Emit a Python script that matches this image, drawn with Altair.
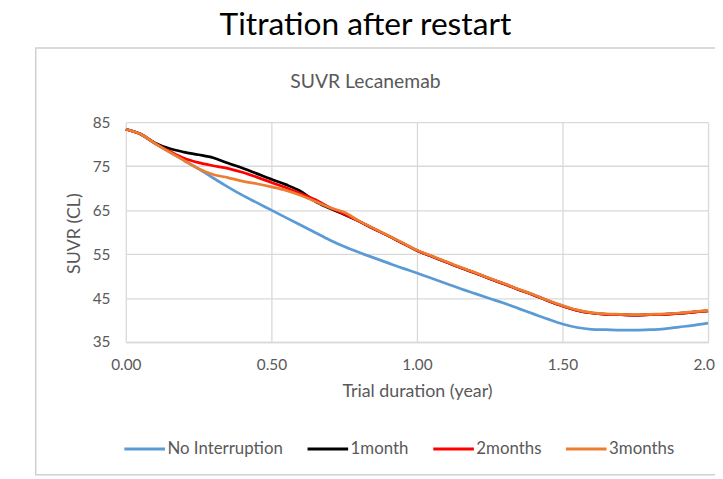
import altair as alt
import pandas as pd

# ---------------- data ----------------
years = [round(i * 0.05, 2) for i in range(41)]

series_names = ["No Interruption", "1month", "2months", "3months"]
series_colors = ["#5B9BD5", "#000000", "#FF0000", "#ED7D31"]

no_interruption = [83.4, 82.3, 80.2, 78.2, 76.3, 74.4, 72.3, 70.3, 68.4, 66.7,
                   65.0, 63.3, 61.6, 59.9, 58.2, 56.7, 55.4, 54.2, 53.0, 51.8,
                   50.7, 49.5, 48.3, 47.1, 46.0, 44.9, 43.8, 42.6, 41.4, 40.2,
                   39.1, 38.3, 37.9, 37.8, 37.7, 37.7, 37.8, 38.0, 38.4, 38.8,
                   39.3]
one_month = [83.4, 82.3, 80.3, 79.0, 78.2, 77.6, 76.9, 75.7, 74.6, 73.3,
             72.0, 70.8, 69.3, 67.0, 65.4, 64.0, 62.5, 60.8, 59.2, 57.5,
             55.8, 54.5, 53.2, 51.9, 50.7, 49.4, 48.2, 46.9, 45.7, 44.4,
             43.2, 42.2, 41.6, 41.3, 41.2, 41.1, 41.2, 41.3, 41.5, 41.8,
             42.1]
two_months = [83.4, 82.3, 80.2, 78.4, 76.8, 75.8, 75.1, 74.5, 73.6, 72.5,
              71.3, 70.1, 68.8, 67.4, 65.6, 64.1, 62.5, 60.8, 59.2, 57.5,
              55.8, 54.5, 53.2, 51.9, 50.7, 49.4, 48.2, 46.9, 45.7, 44.4,
              43.2, 42.2, 41.6, 41.3, 41.2, 41.1, 41.2, 41.3, 41.5, 41.8,
              42.1]
three_months = [83.4, 82.3, 80.2, 78.2, 76.3, 74.4, 73.1, 72.4, 71.6, 71.0,
                70.3, 69.5, 68.4, 67.0, 65.6, 64.5, 62.6, 60.9, 59.3, 57.6,
                55.9, 54.6, 53.3, 52.0, 50.8, 49.5, 48.3, 47.0, 45.8, 44.5,
                43.3, 42.3, 41.7, 41.4, 41.3, 41.2, 41.3, 41.4, 41.6, 41.9,
                42.2]

x_ticks = [0, 0.5, 1.0, 1.5, 2.0]
y_ticks = [35, 45, 55, 65, 75, 85]

main_title = "Titration after restart"
chart_title = "SUVR Lecanemab"
x_title = "Trial duration (year)"
y_title = "SUVR (CL)"

# ---------------- table ----------------
rows = []
for name, vals in zip(series_names,
                      [no_interruption, one_month, two_months, three_months]):
    for x, v in zip(years, vals):
        rows.append({"year": x, "suvr": v, "series": name})
df = pd.DataFrame(rows)

FONT = "Lato"
GRAY = "#595959"

lines = alt.Chart(df).mark_line(strokeWidth=2.75, interpolate="monotone").encode(
    x=alt.X("year:Q", scale=alt.Scale(domain=[0, 2], nice=False),
            axis=alt.Axis(values=x_ticks, format=".2f", title=x_title,
                          labelFlush=False, labelOverlap=False,
                          titleY=55, titleBaseline="alphabetic",
                          domain=True)),
    y=alt.Y("suvr:Q", scale=alt.Scale(domain=[35, 85], nice=False, zero=False),
            axis=alt.Axis(values=y_ticks, format="d", title=y_title,
                          titleX=-52, titleY=112, titleBaseline="middle",
                          titleAlign="center", domain=False)),
    color=alt.Color("series:N",
                    scale=alt.Scale(domain=series_names, range=series_colors),
                    sort=series_names,
                    legend=alt.Legend(orient="none", legendX=-3, legendY=308,
                                      direction="horizontal", title=None,
                                      symbolType="stroke", symbolSize=1681,
                                      symbolStrokeWidth=3,
                                      labelFont=FONT, labelFontSize=17,
                                      labelColor=GRAY, columnPadding=18,
                                      labelOffset=1, padding=0)),
)

frame = alt.Chart(pd.DataFrame({"k": [0]})).mark_rect(
    fill="white", fillOpacity=0, stroke="#d0d0d0", strokeWidth=1.5
).encode(x=alt.value(-91), x2=alt.value(620), y=alt.value(-75), y2=alt.value(356))

title_mark = alt.Chart(pd.DataFrame({"t": [main_title]})).mark_text(
    font=FONT, fontSize=32, color="#000000", align="center", baseline="alphabetic"
).encode(x=alt.value(242), y=alt.value(-88), text="t:N")

subtitle_mark = alt.Chart(pd.DataFrame({"t": [chart_title]})).mark_text(
    font=FONT, fontSize=19.5, color=GRAY, align="center", baseline="alphabetic"
).encode(x=alt.value(242), y=alt.value(-35), text="t:N")

chart = alt.layer(frame, lines, title_mark, subtitle_mark).properties(
    width=588, height=222,
    padding={"left": 119, "top": 113, "right": 7, "bottom": 135},
    autosize=alt.AutoSizeParams(type="none"),
    background="white",
).configure_view(stroke=None).configure_axis(
    gridColor="#d9d9d9", gridWidth=1.3, domainColor="#d9d9d9", domainWidth=1.3,
    ticks=False, tickSize=0, labelPadding=16,
    labelFont=FONT, labelFontSize=15.5, labelColor=GRAY,
    titleFont=FONT, titleFontSize=18, titleColor=GRAY, titleFontWeight="normal",
)

chart.save("out.html", embed_options={"renderer": "svg", "actions": False})
